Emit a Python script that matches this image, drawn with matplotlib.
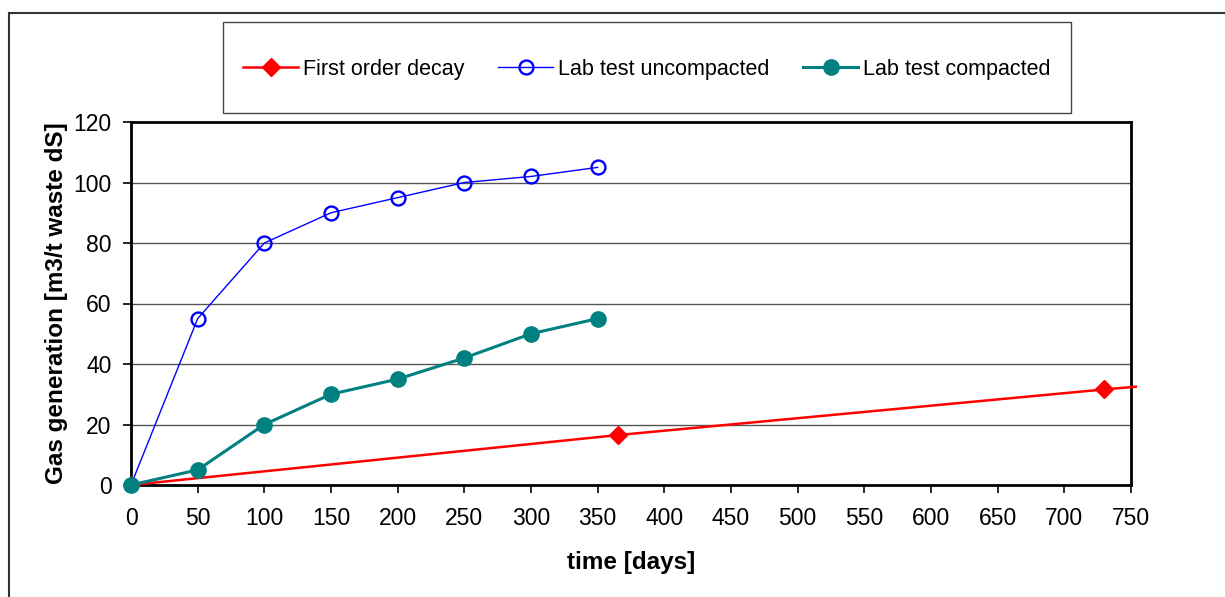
import matplotlib.pyplot as plt
from matplotlib.patches import Rectangle

plt.rcParams["font.family"] = ["Liberation Sans", "DejaVu Sans"]

# first order decay model, one point per year
decay_days = [0, 365, 730, 1095]
decay_gas = [0, 16.5, 31.6, 45.2]

lab_days = [0, 50, 100, 150, 200, 250, 300, 350]
uncompacted = [0, 55, 80, 90, 95, 100, 102, 105]
compacted = [0, 5, 20, 30, 35, 42, 50, 55]

x_ticks = list(range(0, 751, 50))
y_ticks = list(range(0, 121, 20))

fig = plt.figure(figsize=(12.25, 5.97), dpi=100)
ax = fig.add_axes([131 / 1225, 1 - 485 / 597, 1000 / 1225, 363 / 597])

for y in y_ticks[1:-1]:
    ax.axhline(y, color="#555555", lw=1.0, zorder=1)

red, = ax.plot(decay_days, decay_gas, color="#FF0000", lw=1.8, marker="D",
               markersize=9.5, label="First order decay", zorder=3)
# Excel lets the line run a little past the plot area
red.set_clip_path(Rectangle((0, 0), 1.006, 1, transform=ax.transAxes))

ax.plot(lab_days, uncompacted, color="#0000FF", lw=1.0, marker="o",
        markersize=10, markerfacecolor="none", markeredgewidth=1.7,
        label="Lab test uncompacted", zorder=4)
ax.plot(lab_days, compacted, color="#008080", lw=2.2, marker="o",
        markersize=11, label="Lab test compacted", zorder=5, clip_on=False)

ax.set_xlim(0, 750)
ax.set_ylim(0, 120)
ax.set_xticks(x_ticks)
ax.set_yticks(y_ticks)
ax.tick_params(axis="y", direction="out", length=6, width=1.2, labelsize=16.5, pad=8)
ax.tick_params(axis="x", direction="out", length=6, width=1.2, labelsize=16.5, pad=10)
for s in ax.spines.values():
    s.set_linewidth(2.0)
    s.set_color("black")

ax.set_xlabel("time [days]", fontsize=17.5, fontweight="bold", labelpad=15)
ax.set_ylabel("Gas generation [m3/t waste dS]", fontsize=17.5, fontweight="bold",
              labelpad=4)

# legend box
fig.add_artist(Rectangle((223 / 1225, 1 - 113 / 597), 848 / 1225, 91 / 597,
                         transform=fig.transFigure, fill=False,
                         edgecolor="#444444", lw=1.0))
leg = fig.legend(loc="center", bbox_to_anchor=(647 / 1225, 1 - 69 / 597),
                 ncol=3, fontsize=15.5, frameon=False,
                 handlelength=2.55, handletextpad=0.25, columnspacing=1.55)

# outer chart border (cut off at right and bottom)
fig.add_artist(plt.Line2D([9 / 1225, 9 / 1225], [0, 1 - 13 / 597], color="#333333", lw=1.5))
fig.add_artist(plt.Line2D([9 / 1225, 1], [1 - 13 / 597, 1 - 13 / 597], color="#333333", lw=1.5))

fig.savefig("out.png", dpi=100)
